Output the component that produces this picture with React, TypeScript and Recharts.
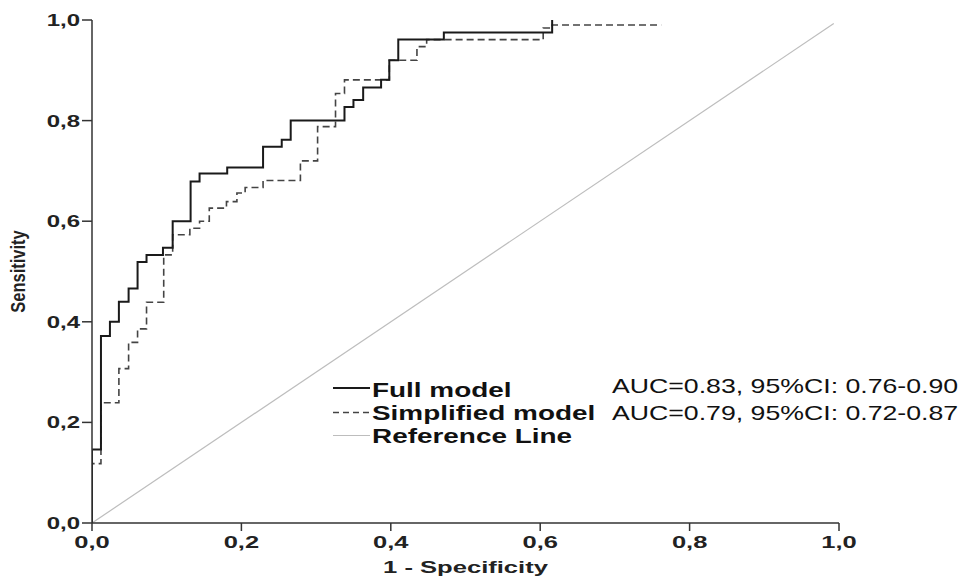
import React from "react";
import { LineChart, Line, XAxis, YAxis, Legend } from "recharts";

// ROC points (1 - specificity, sensitivity), each point is where the curve rises
const fullFpr = [0, 0, 0.012, 0.024, 0.036, 0.049, 0.061, 0.073, 0.095, 0.108, 0.132, 0.144, 0.181, 0.229, 0.254, 0.266, 0.338, 0.35, 0.363, 0.387, 0.398, 0.41, 0.471, 0.616];
const fullTpr = [0, 0.146, 0.372, 0.4, 0.44, 0.466, 0.519, 0.533, 0.547, 0.6, 0.679, 0.695, 0.707, 0.748, 0.762, 0.8, 0.827, 0.841, 0.866, 0.881, 0.92, 0.961, 0.975, 1.0];

const simpleFpr = [0, 0, 0.012, 0.036, 0.049, 0.061, 0.073, 0.096, 0.108, 0.131, 0.144, 0.157, 0.18, 0.194, 0.205, 0.229, 0.279, 0.302, 0.326, 0.338, 0.398, 0.435, 0.448, 0.604, 0.616, 0.762];
const simpleTpr = [0, 0.118, 0.239, 0.307, 0.359, 0.386, 0.439, 0.533, 0.573, 0.586, 0.6, 0.626, 0.639, 0.656, 0.667, 0.681, 0.72, 0.788, 0.854, 0.881, 0.92, 0.947, 0.961, 0.984, 0.99, 0.99];

const refFpr = [0, 0.993];
const refTpr = [0, 0.993];

const xTicks = [0, 0.2, 0.4, 0.6, 0.8, 1.0];
const yTicks = [0, 0.2, 0.4, 0.6, 0.8, 1.0];

const seriesNames = ["Full model", "Simplified model", "Reference Line"];
const aucLabels = ["AUC=0.83, 95%CI: 0.76-0.90", "AUC=0.79, 95%CI: 0.72-0.87"];

const zip = (xs: number[], ys: number[]) => xs.map((fpr, i) => ({ fpr, tpr: ys[i] }));
const fullData = zip(fullFpr, fullTpr);
const simpleData = zip(simpleFpr, simpleTpr);
const refData = zip(refFpr, refTpr);

const FONT = "'Liberation Sans', Arial, sans-serif";
const fmt = (v: number) => v.toFixed(1).replace(".", ",");

const XTick = (props: any) => {
  const { x, y, payload } = props;
  return (
    <g transform={`translate(${x},${y})`}>
      <text transform="scale(1.5,1)" textAnchor="middle" dy={15} fontSize={17} fontWeight="bold" fill="#222" fontFamily={FONT}>
        {fmt(payload.value)}
      </text>
    </g>
  );
};

const YTick = (props: any) => {
  const { x, y, payload } = props;
  return (
    <g transform={`translate(${x},${y})`}>
      <text transform="scale(1.5,1)" textAnchor="end" dy={6} fontSize={16} fontWeight="bold" fill="#222" fontFamily={FONT}>
        {fmt(payload.value)}
      </text>
    </g>
  );
};

const LegendBox = () => {
  const rows = [
    { line: 388, base: 397, stroke: "#1a1a1a", width: 2, dash: undefined },
    { line: 412.5, base: 420, stroke: "#444", width: 1.5, dash: "6 4" },
    { line: 435.5, base: 443, stroke: "#bdbdbd", width: 1.2, dash: undefined },
  ];
  return (
    <svg width={963} height={577} style={{ display: "block" }}>
      {rows.map((r, i) => (
        <g key={i}>
          <line x1={333} x2={370} y1={r.line} y2={r.line} stroke={r.stroke} strokeWidth={r.width} strokeDasharray={r.dash} />
          <g transform={`translate(372,${r.base})`}>
            <text transform="scale(1.33,1)" fontSize={21} fontWeight="bold" fill="#111" fontFamily={FONT}>
              {seriesNames[i]}
            </text>
          </g>
        </g>
      ))}
      {aucLabels.map((t, i) => (
        <g key={t} transform={`translate(612,${393 + i * 26.5})`}>
          <text transform="scale(1.27,1)" fontSize={21} fill="#111" fontFamily={FONT}>
            {t}
          </text>
        </g>
      ))}
    </svg>
  );
};

export default function App() {
  return (
    <div style={{ position: "absolute", left: 0, top: 0, background: "#fff" }}>
      <LineChart width={963} height={577} margin={{ top: 20, right: 124, bottom: 0, left: 0 }}>
        <XAxis
          dataKey="fpr"
          type="number"
          domain={[0, 1]}
          ticks={xTicks}
          allowDataOverflow
          height={54}
          tickSize={8}
          tickMargin={2}
          tick={<XTick />}
          axisLine={{ stroke: "#333", strokeWidth: 1.5 }}
          tickLine={{ stroke: "#333", strokeWidth: 1.5 }}
          label={{
            content: (p: any) => (
              <g transform={`translate(${p.viewBox.x + p.viewBox.width / 2},573)`}>
                <text transform="scale(1.6,1)" textAnchor="middle" fontSize={16} fontWeight="bold" fill="#222" fontFamily={FONT}>
                  1 - Specificity
                </text>
              </g>
            ),
          }}
        />
        <YAxis
          dataKey="tpr"
          type="number"
          domain={[0, 1]}
          ticks={yTicks}
          width={92}
          tickSize={10}
          tickMargin={2}
          tick={<YTick />}
          axisLine={{ stroke: "#333", strokeWidth: 1.5 }}
          tickLine={{ stroke: "#333", strokeWidth: 1.5 }}
          label={{
            content: (p: any) => (
              <g transform={`translate(25,${p.viewBox.y + p.viewBox.height / 2}) rotate(-90) scale(1,1.2)`}>
                <text textAnchor="middle" fontSize={16.5} fontWeight="bold" fill="#222" fontFamily={FONT}>
                  Sensitivity
                </text>
              </g>
            ),
          }}
        />
        <Legend
          layout="horizontal"
          verticalAlign="middle"
          align="center"
          wrapperStyle={{ left: 0, top: 0, width: 963, height: 577, pointerEvents: "none" }}
          content={() => <LegendBox />}
        />
        <Line data={refData} dataKey="tpr" type="linear" stroke="#bdbdbd" strokeWidth={1.2} dot={false} isAnimationActive={false} />
        <Line data={simpleData} dataKey="tpr" type="stepAfter" stroke="#444" strokeWidth={1.6} strokeDasharray="7 4" dot={false} isAnimationActive={false} />
        <Line data={fullData} dataKey="tpr" type="stepAfter" stroke="#1a1a1a" strokeWidth={2} dot={false} isAnimationActive={false} />
      </LineChart>
    </div>
  );
}
